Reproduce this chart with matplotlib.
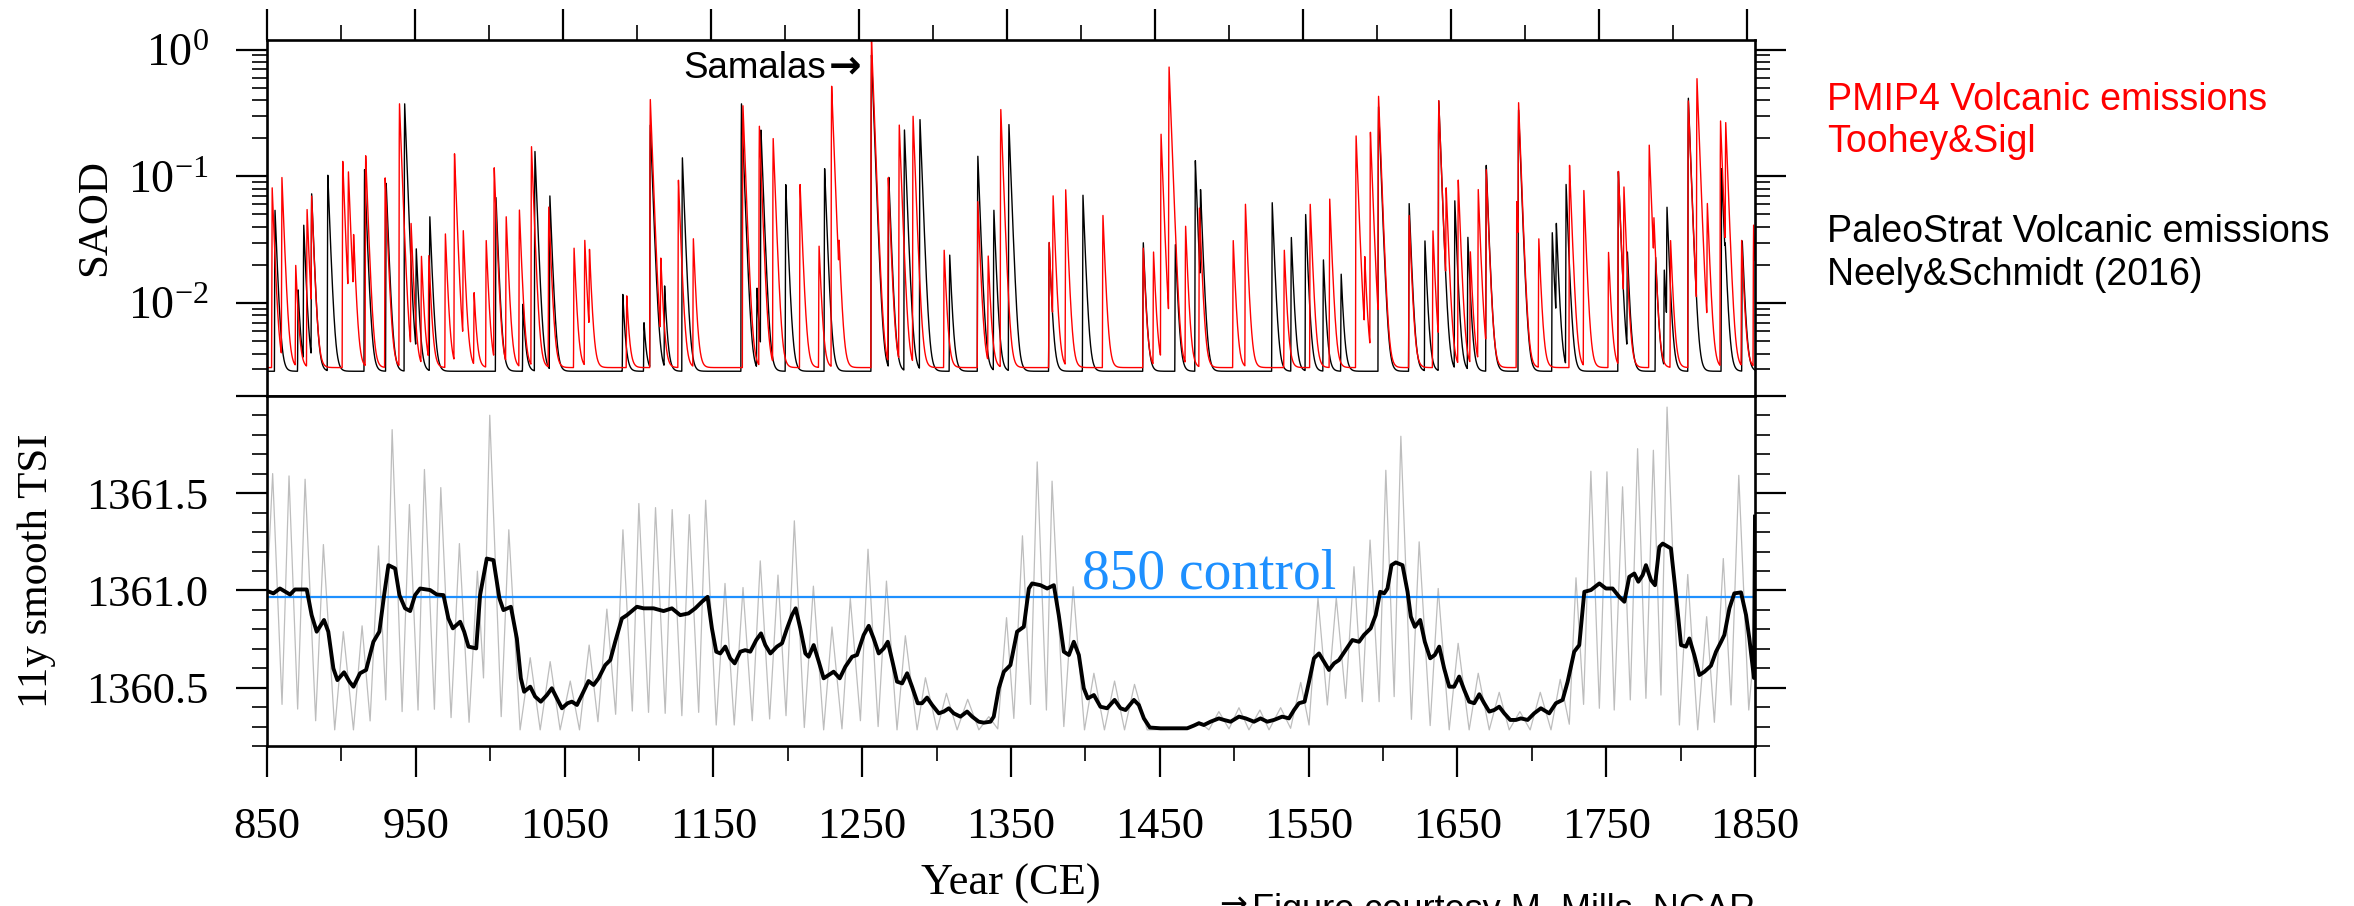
import numpy as np
import matplotlib
matplotlib.use('Agg')
import matplotlib.pyplot as plt
from matplotlib.ticker import FixedLocator, NullFormatter

plt.rcParams['font.family'] = ['Liberation Serif', 'DejaVu Serif']
plt.rcParams['mathtext.fontset'] = 'custom'
plt.rcParams['mathtext.rm'] = 'Liberation Serif'
plt.rcParams['mathtext.it'] = 'Liberation Serif:italic'

# ---------------- DATA ----------------
# PMIP4 (Toohey & Sigl) volcanic SAOD events: year of peak, peak SAOD
pmip4_years = [853.5, 860.1, 869.4, 877.1, 880.2, 901.2, 905.0, 908.5, 916.7, 929.8,
               939.5, 947.3, 954.3, 959.3, 970.5, 976.7, 982.6, 989.9, 998.1, 1003.5,
               1011.6, 1020.5, 1028.7, 1040.3, 1057.4, 1064.7, 1067.8, 1093.0, 1108.9, 1116.0,
               1127.9, 1138.0, 1171.5, 1182.6, 1191.9, 1210.1, 1222.9, 1231.4, 1236.4, 1258.3,
               1269.7, 1277.1, 1286.4, 1307.4, 1330.2, 1337.2, 1345.7, 1378.3, 1381.0, 1389.5,
               1414.7, 1441.9, 1448.8, 1453.9, 1459.3, 1470.5, 1479.8, 1502.7, 1510.9, 1537.2,
               1554.7, 1567.8, 1585.7, 1591.5, 1595.3, 1600.8, 1621.5, 1637.6, 1641.5, 1646.5,
               1654.7, 1662.8, 1668.2, 1673.6, 1694.2, 1695.4, 1709.1, 1729.8, 1739.5, 1756.2,
               1762.8, 1766.6, 1783.7, 1786.8, 1798.1, 1810.1, 1815.9, 1822.9, 1831.8, 1835.3,
               1846.1, 1854.2]
pmip4_peaks = [0.078, 0.094, 0.0166, 0.0515, 0.061, 0.128, 0.097, 0.023, 0.142, 0.094,
               0.37, 0.038, 0.020, 0.020, 0.032, 0.147, 0.032, 0.0088, 0.028, 0.113,
               0.0445, 0.051, 0.168, 0.054, 0.024, 0.028, 0.0205, 0.0083, 0.40, 0.017,
               0.090, 0.029, 0.357, 0.245, 0.195, 0.083, 0.025, 0.51, 0.0139, 1.17,
               0.094, 0.25, 0.294, 0.023, 0.060, 0.020, 0.333, 0.027, 0.063, 0.075,
               0.046, 0.024, 0.022, 0.211, 0.72, 0.037, 0.053, 0.028, 0.057, 0.023,
               0.057, 0.063, 0.205, 0.017, 0.218, 0.42, 0.046, 0.034, 0.39, 0.067,
               0.090, 0.022, 0.075, 0.108, 0.060, 0.353, 0.029, 0.119, 0.074, 0.022,
               0.106, 0.072, 0.173, 0.026, 0.028, 0.39, 0.58, 0.054, 0.27, 0.24,
               0.028, 0.038]
pmip4_background = 3.1e-3

# PaleoStrat (Neely & Schmidt 2016) volcanic SAOD events
paleo_years = [855.4, 871.0, 874.8, 880.2, 891.1, 915.9, 930.5, 943.0, 950.8, 960.0,
               1004.7, 1022.9, 1031.0, 1041.1, 1090.3, 1104.7, 1108.9, 1118.6, 1130.6, 1170.5,
               1181.0, 1183.7, 1200.4, 1226.7, 1258.3, 1270.0, 1280.6, 1291.1, 1311.2, 1330.2,
               1341.0, 1351.2, 1378.3, 1401.2, 1441.9, 1463.6, 1477.1, 1480.6, 1529.0, 1541.9,
               1551.6, 1563.6, 1575.6, 1600.8, 1621.5, 1632.2, 1641.5, 1652.3, 1661.2, 1673.6,
               1695.4, 1718.2, 1720.9, 1727.5, 1762.8, 1768.9, 1788.0, 1793.8, 1795.7, 1810.1,
               1832.6, 1835.0, 1846.5]
paleo_peaks = [0.051, 0.0098, 0.0376, 0.069, 0.099, 0.110, 0.085, 0.37, 0.0225, 0.045,
               0.065, 0.0069, 0.154, 0.067, 0.0088, 0.0041, 0.25, 0.0105, 0.137, 0.37,
               0.010, 0.227, 0.083, 0.112, 0.9, 0.095, 0.229, 0.277, 0.021, 0.141,
               0.051, 0.253, 0.027, 0.068, 0.027, 0.026, 0.13, 0.065, 0.059, 0.030,
               0.047, 0.019, 0.014, 0.35, 0.058, 0.028, 0.39, 0.061, 0.030, 0.119,
               0.33, 0.033, 0.035, 0.083, 0.106, 0.021, 0.020, 0.015, 0.050, 0.41,
               0.112, 0.007, 0.028]
paleo_background = 2.9e-3

# Annual TSI (grey): successive solar-cycle maxima/minima (year, W/m2)
tsi_years = [850.0, 853.8, 860.1, 864.8, 870.6, 875.6, 882.7, 887.9, 895.5, 901.3,
             908.1, 913.9, 919.3, 924.9, 929.8, 934.1, 940.8, 945.7, 951.5, 955.8,
             962.5, 966.8, 973.7, 979.3, 985.8, 991.4, 995.5, 999.7, 1007.4, 1012.5,
             1020.1, 1026.9, 1033.6, 1040.3, 1047.0, 1053.8, 1060.0, 1066.5, 1072.4, 1078.4,
             1084.3, 1089.2, 1095.5, 1099.9, 1106.4, 1111.1, 1117.6, 1122.3, 1128.8, 1133.8,
             1140.1, 1144.8, 1151.9, 1157.8, 1164.0, 1169.9, 1176.1, 1181.5, 1187.8, 1193.4,
             1198.8, 1204.4, 1211.1, 1217.2, 1224.1, 1229.7, 1236.4, 1242.0, 1248.8, 1253.9,
             1260.7, 1266.3, 1273.4, 1279.0, 1286.9, 1292.5, 1300.3, 1306.6, 1313.8, 1320.9,
             1328.4, 1335.1, 1341.1, 1347.0, 1351.9, 1357.7, 1363.1, 1367.6, 1373.8, 1377.6,
             1385.5, 1391.8, 1399.4, 1405.7, 1412.8, 1419.6, 1426.3, 1433.0, 1441.5, 1455.0,
             1468.0, 1476.3, 1483.0, 1489.7, 1496.5, 1503.2, 1509.9, 1517.3, 1523.4, 1531.2,
             1537.9, 1544.7, 1550.3, 1556.3, 1562.6, 1568.6, 1574.9, 1580.5, 1586.1, 1591.3,
             1597.4, 1601.9, 1607.5, 1612.0, 1619.1, 1624.3, 1631.7, 1637.1, 1644.5, 1650.5,
             1657.9, 1664.0, 1671.4, 1678.1, 1684.8, 1692.0, 1698.9, 1705.7, 1712.9, 1719.1,
             1725.2, 1729.7, 1734.8, 1739.7, 1745.4, 1750.5, 1755.4, 1761.0, 1766.2, 1771.1,
             1776.7, 1781.7, 1786.8, 1790.9, 1799.2, 1804.8, 1811.5, 1817.5, 1822.7, 1828.7,
             1833.9, 1839.1, 1845.8, 1850.0]
tsi_values = [1360.98, 1361.601, 1360.414, 1361.589, 1360.390, 1361.572, 1360.330, 1361.236, 1360.283, 1360.788,
              1360.283, 1360.818, 1360.329, 1361.229, 1360.437, 1361.827, 1360.377, 1361.442, 1360.385, 1361.622,
              1360.389, 1361.529, 1360.346, 1361.241, 1360.322, 1361.099, 1360.55, 1361.901, 1360.351, 1361.312,
              1360.283, 1360.654, 1360.283, 1360.634, 1360.283, 1360.534, 1360.283, 1360.719, 1360.325, 1360.904,
              1360.363, 1361.312, 1360.380, 1361.447, 1360.373, 1361.426, 1360.368, 1361.416, 1360.356, 1361.390,
              1360.373, 1361.464, 1360.308, 1361.036, 1360.308, 1361.015, 1360.330, 1361.152, 1360.339, 1361.079,
              1360.356, 1361.358, 1360.295, 1361.022, 1360.283, 1360.812, 1360.288, 1360.959, 1360.330, 1361.212,
              1360.300, 1361.048, 1360.283, 1360.767, 1360.283, 1360.551, 1360.283, 1360.471, 1360.283, 1360.440,
              1360.283, 1360.351, 1360.288, 1360.860, 1360.342, 1361.281, 1360.414, 1361.661, 1360.385, 1361.562,
              1360.300, 1361.019, 1360.283, 1360.574, 1360.283, 1360.534, 1360.283, 1360.517, 1360.283, 1360.285,
              1360.290, 1360.325, 1360.283, 1360.377, 1360.288, 1360.397, 1360.283, 1360.385, 1360.283, 1360.397,
              1360.291, 1360.527, 1360.308, 1360.962, 1360.411, 1360.962, 1360.445, 1361.122, 1360.428, 1361.259,
              1360.428, 1361.618, 1360.454, 1361.793, 1360.337, 1361.250, 1360.305, 1361.010, 1360.283, 1360.728,
              1360.283, 1360.574, 1360.283, 1360.476, 1360.283, 1360.377, 1360.283, 1360.476, 1360.283, 1360.543,
              1360.312, 1361.065, 1360.414, 1361.613, 1360.394, 1361.610, 1360.385, 1361.533, 1360.437, 1361.729,
              1360.445, 1361.721, 1360.462, 1361.943, 1360.308, 1361.082, 1360.283, 1360.865, 1360.322, 1361.164,
              1360.411, 1361.592, 1360.385, 1360.75]

# 11-year smoothed TSI (black)
smooth_years = [850.2, 854.3, 858.7, 865.5, 868.8, 876.7, 880.0, 883.4, 888.3, 891.2,
                894.6, 897.3, 901.8, 905.4, 908.1, 912.5, 916.6, 921.5, 925.5, 928.7,
                931.6, 936.1, 939.0, 942.8, 946.2, 949.5, 952.9, 959.6, 964.1, 968.6,
                971.9, 974.9, 979.8, 982.5, 985.4, 990.6, 993.2, 997.7, 1002.2, 1006.2,
                1008.9, 1013.9, 1017.9, 1020.6, 1022.8, 1026.9, 1030.2, 1034.0, 1038.1, 1041.4,
                1044.8, 1048.2, 1052.0, 1054.9, 1058.3, 1061.6, 1066.1, 1069.5, 1072.8, 1077.3,
                1080.7, 1084.0, 1088.5, 1091.9, 1098.6, 1103.1, 1109.8, 1116.5, 1122.1, 1127.7,
                1133.3, 1137.8, 1142.3, 1146.1, 1149.0, 1151.9, 1154.6, 1158.0, 1161.3, 1164.3,
                1168.1, 1171.4, 1174.8, 1178.8, 1182.0, 1184.9, 1188.3, 1192.7, 1196.1, 1199.5,
                1202.8, 1205.3, 1208.4, 1211.8, 1214.0, 1217.4, 1220.8, 1224.1, 1227.5, 1230.8,
                1234.9, 1238.7, 1243.2, 1246.5, 1251.0, 1254.4, 1257.7, 1261.1, 1264.5, 1267.2,
                1270.1, 1273.4, 1276.8, 1280.2, 1283.5, 1287.3, 1290.2, 1293.6, 1297.0, 1301.5,
                1304.8, 1308.2, 1311.5, 1316.0, 1320.5, 1323.9, 1328.3, 1331.7, 1336.2, 1338.4,
                1341.8, 1345.2, 1349.6, 1354.1, 1358.6, 1362.0, 1364.2, 1369.8, 1374.3, 1378.8,
                1382.1, 1385.5, 1388.9, 1392.2, 1395.6, 1398.9, 1401.6, 1405.7, 1410.1, 1414.6,
                1419.6, 1423.6, 1427.0, 1432.6, 1435.9, 1439.3, 1443.3, 1450.5, 1468.4, 1472.9,
                1476.3, 1479.6, 1484.1, 1489.7, 1493.1, 1497.6, 1503.2, 1507.7, 1513.3, 1517.7,
                1522.2, 1526.7, 1532.3, 1536.8, 1540.2, 1543.5, 1547.3, 1550.3, 1553.6, 1557.0,
                1560.3, 1563.7, 1567.1, 1570.4, 1574.9, 1579.4, 1583.9, 1587.2, 1591.7, 1595.1,
                1598.1, 1600.8, 1603.0, 1605.7, 1608.6, 1613.1, 1616.5, 1618.7, 1621.4, 1625.0,
                1628.1, 1631.7, 1634.8, 1637.8, 1641.1, 1644.5, 1647.8, 1651.2, 1654.6, 1657.9,
                1661.3, 1664.7, 1668.0, 1671.4, 1674.7, 1678.1, 1681.5, 1685.5, 1689.3, 1692.7,
                1697.2, 1701.6, 1706.1, 1711.7, 1716.2, 1720.7, 1724.1, 1728.5, 1731.9, 1735.3,
                1739.7, 1745.4, 1749.8, 1754.3, 1758.8, 1762.2, 1765.5, 1768.9, 1771.6, 1774.5,
                1776.7, 1780.1, 1782.8, 1785.7, 1788.0, 1793.5, 1796.9, 1800.3, 1803.6, 1805.9,
                1809.2, 1812.6, 1816.0, 1820.4, 1823.8, 1827.2, 1829.4, 1832.8, 1836.1, 1840.6,
                1844.0, 1846.2, 1847.8, 1849.3, 1850.0]
smooth_values = [1360.997, 1360.985, 1361.010, 1360.979, 1361.005, 1361.005, 1360.873, 1360.788, 1360.848, 1360.788,
                 1360.599, 1360.539, 1360.579, 1360.531, 1360.505, 1360.574, 1360.591, 1360.736, 1360.788, 1360.976,
                 1361.130, 1361.113, 1360.976, 1360.908, 1360.894, 1360.976, 1361.010, 1361.002, 1360.979, 1360.976,
                 1360.856, 1360.805, 1360.839, 1360.788, 1360.711, 1360.702, 1360.976, 1361.164, 1361.156, 1360.959,
                 1360.899, 1360.916, 1360.753, 1360.548, 1360.479, 1360.505, 1360.454, 1360.428, 1360.462, 1360.497,
                 1360.445, 1360.394, 1360.420, 1360.428, 1360.411, 1360.462, 1360.534, 1360.514, 1360.548, 1360.616,
                 1360.642, 1360.736, 1360.856, 1360.873, 1360.916, 1360.908, 1360.908, 1360.894, 1360.908, 1360.873,
                 1360.882, 1360.908, 1360.942, 1360.967, 1360.805, 1360.685, 1360.676, 1360.711, 1360.651, 1360.625,
                 1360.685, 1360.693, 1360.685, 1360.745, 1360.779, 1360.719, 1360.676, 1360.711, 1360.728, 1360.805,
                 1360.873, 1360.908, 1360.805, 1360.676, 1360.659, 1360.719, 1360.634, 1360.548, 1360.565, 1360.582,
                 1360.548, 1360.608, 1360.659, 1360.668, 1360.771, 1360.818, 1360.753, 1360.676, 1360.702, 1360.736,
                 1360.642, 1360.531, 1360.522, 1360.574, 1360.505, 1360.420, 1360.420, 1360.449, 1360.411, 1360.368,
                 1360.377, 1360.394, 1360.368, 1360.351, 1360.377, 1360.351, 1360.325, 1360.320, 1360.325, 1360.351,
                 1360.497, 1360.582, 1360.616, 1360.788, 1360.813, 1361.010, 1361.036, 1361.027, 1361.010, 1361.027,
                 1360.873, 1360.685, 1360.668, 1360.736, 1360.668, 1360.497, 1360.445, 1360.462, 1360.402, 1360.394,
                 1360.437, 1360.394, 1360.385, 1360.437, 1360.411, 1360.342, 1360.295, 1360.291, 1360.291, 1360.305,
                 1360.317, 1360.308, 1360.325, 1360.342, 1360.334, 1360.325, 1360.351, 1360.342, 1360.325, 1360.342,
                 1360.325, 1360.334, 1360.351, 1360.342, 1360.385, 1360.420, 1360.428, 1360.531, 1360.651, 1360.676,
                 1360.634, 1360.591, 1360.625, 1360.642, 1360.693, 1360.745, 1360.736, 1360.771, 1360.805, 1360.873,
                 1360.993, 1360.985, 1361.010, 1361.130, 1361.144, 1361.130, 1360.993, 1360.865, 1360.813, 1360.848,
                 1360.736, 1360.651, 1360.668, 1360.711, 1360.599, 1360.505, 1360.505, 1360.557, 1360.488, 1360.428,
                 1360.420, 1360.466, 1360.420, 1360.377, 1360.385, 1360.402, 1360.368, 1360.334, 1360.334, 1360.342,
                 1360.334, 1360.368, 1360.394, 1360.368, 1360.420, 1360.437, 1360.531, 1360.685, 1360.719, 1360.993,
                 1361.002, 1361.036, 1361.010, 1361.010, 1360.967, 1360.942, 1361.070, 1361.087, 1361.045, 1361.079,
                 1361.130, 1361.053, 1361.027, 1361.224, 1361.241, 1361.216, 1360.976, 1360.719, 1360.711, 1360.753,
                 1360.668, 1360.565, 1360.582, 1360.613, 1360.685, 1360.736, 1360.771, 1360.908, 1360.985, 1360.990,
                 1360.873, 1360.753, 1360.647, 1360.55, 1361.38]

control_tsi = 1360.964
x_ticks_major = list(range(850, 1851, 100))
x_ticks_minor = list(range(900, 1801, 100))

# ---------------- FIGURE ----------------
W, H = 2354, 906
fig = plt.figure(figsize=(W / 100, H / 100), dpi=100)

def rect(l, t, r, b):
    return [l / W, 1 - b / H, (r - l) / W, (b - t) / H]

L, R = 267, 1755
ax1 = fig.add_axes(rect(L, 39.5, R, 396))
ax2 = fig.add_axes(rect(L, 396, R, 746))

# monthly time axis for the aerosol series
t = np.arange(850.0, 1855.2, 1.0 / 12.0)

def build(years, peaks, bg, rise=0.35, tau=1.4):
    s = np.full_like(t, bg)
    for y0, p in zip(years, peaks):
        y0 = round(y0 * 12) / 12.0
        dt = t - y0
        up = (dt >= -rise) & (dt < 0)
        s[up] += p * (dt[up] + rise) / rise
        dn = dt >= 0
        s[dn] += p * np.exp(-dt[dn] / tau)
    return s

paleo = build(paleo_years, paleo_peaks, paleo_background)
pmip4 = build(pmip4_years, pmip4_peaks, pmip4_background)

ax1.plot(t, paleo, color='black', lw=1.0)
ax1.plot(t, pmip4, color='red', lw=1.0)
ax1.set_yscale('log')
ax1.set_xlim(850, 1855.1)
ax1.set_ylim(1.85e-3, 1.2)

ax1.set_xticks(x_ticks_major)
ax1.set_xticks(x_ticks_minor, minor=True)
ax1.set_yticks([1e-2, 1e-1, 1.0],
               labels=[r'$\mathregular{10^{-2}}$', r'$\mathregular{10^{-1}}$', r'$\mathregular{10^{0}}$'])
ymin_list = [k * 1e-3 for k in range(3, 10)] + [k * 1e-2 for k in range(2, 10)] + [k * 1e-1 for k in range(2, 10)]
ax1.yaxis.set_minor_locator(FixedLocator(ymin_list))
ax1.yaxis.set_minor_formatter(NullFormatter())
ax1.tick_params(axis='x', which='both', direction='out', top=True, bottom=False,
                labeltop=False, labelbottom=False)
ax1.tick_params(axis='y', which='both', direction='out', left=True, right=True,
                labelsize=33, pad=20)

ax2.plot(tsi_years, tsi_values, color='#bdbdbd', lw=0.9)
ax2.axhline(control_tsi, color='#1e90ff', lw=1.6)
ax2.plot(smooth_years, smooth_values, color='black', lw=2.8)
ax2.set_xlim(850, 1850)
ax2.set_ylim(1360.2, 1362.0)
ax2.set_xticks(x_ticks_major, labels=[str(v) for v in x_ticks_major])
ax2.set_xticks(x_ticks_minor, minor=True)
ax2.set_yticks([1360.5, 1361.0, 1361.5, 1362.0], labels=['1360.5', '1361.0', '1361.5', ''])
ax2.yaxis.set_minor_locator(FixedLocator([1360.2, 1360.3, 1360.4, 1360.6, 1360.7, 1360.8, 1360.9,
                                          1361.1, 1361.2, 1361.3, 1361.4, 1361.6, 1361.7, 1361.8, 1361.9]))
ax2.tick_params(axis='x', which='both', direction='out', top=False, bottom=True,
                labelsize=32, pad=22)
ax2.tick_params(axis='y', which='both', direction='out', left=True, right=True,
                labelsize=32, pad=20)

for ax in (ax1, ax2):
    ax.tick_params(which='major', length=22, width=1.6)
    ax.tick_params(which='minor', length=11, width=1.2)
    for sp in ax.spines.values():
        sp.set_linewidth(1.9)

# labels & annotations
fig.text(95 / W, 1 - 218 / H, 'SAOD', rotation=90, ha='center', va='center', fontsize=31)
fig.text(37 / W, 1 - 571 / H, '11y smooth TSI', rotation=90, ha='center', va='center', fontsize=31)
fig.text(1011 / W, 1 - 864 / H, 'Year (CE)', ha='center', va='top', fontsize=32)

sans = ['Liberation Sans', 'DejaVu Sans']
ax1.text(1227.5, 0.6, 'Samalas', ha='right', va='baseline', fontsize=26.5, family=sans)
ax1.text(1251.5, 0.6, '\u2192', ha='right', va='baseline', fontsize=28, family='DejaVu Sans',
         fontweight='bold')
ax2.text(1398, 1361.01, '850 control', ha='left', va='baseline', fontsize=40, color='#1e90ff')

leg_size = 27
fig.text(1827 / W, 1 - 110 / H, 'PMIP4 Volcanic emissions', color='red', fontsize=leg_size,
         family=sans, va='baseline')
fig.text(1827 / W, 1 - 152 / H, 'Toohey&Sigl', color='red', fontsize=leg_size, family=sans, va='baseline')
fig.text(1827 / W, 1 - 242 / H, 'PaleoStrat Volcanic emissions', color='black', fontsize=leg_size,
         family=sans, va='baseline')
fig.text(1827 / W, 1 - 285 / H, 'Neely&Schmidt (2016)', color='black', fontsize=leg_size,
         family=sans, va='baseline')
fig.text(1219 / W, 1 - 888 / H, '\u2192', color='black', fontsize=24, family='DejaVu Sans',
         va='top')
fig.text(1252 / W, 1 - 893 / H, 'Figure courtesy M. Mills, NCAR', color='black', fontsize=26,
         family=sans, va='top')

fig.savefig('out.png', dpi=100)
